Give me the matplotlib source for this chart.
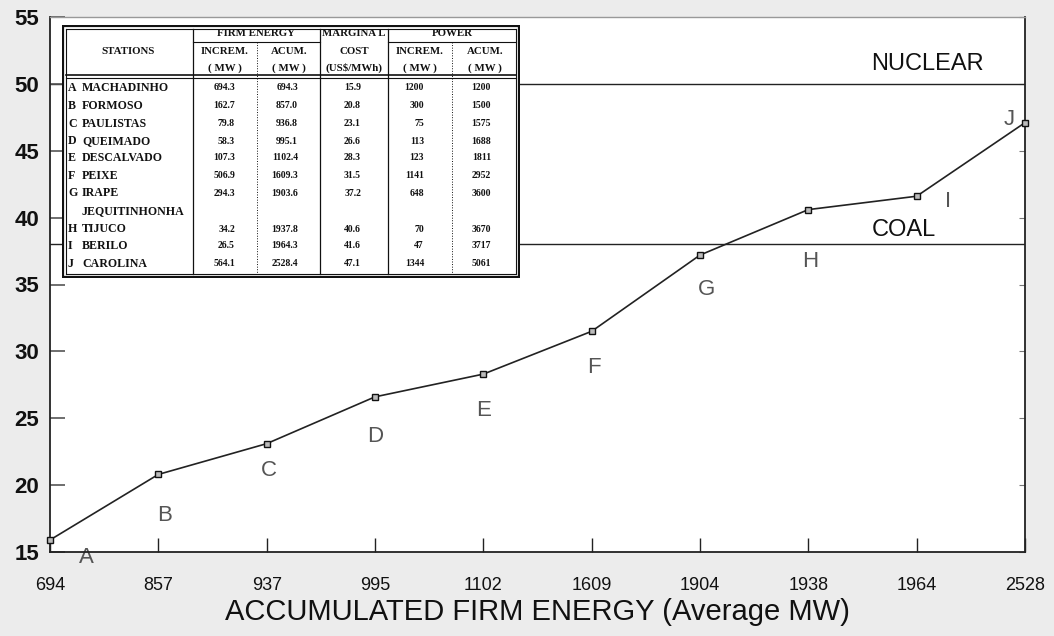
import matplotlib
matplotlib.use("Agg")
import matplotlib.pyplot as plt
from matplotlib.lines import Line2D

# ---------------- data ----------------
letters = ["A", "B", "C", "D", "E", "F", "G", "H", "I", "J"]
stations = ["MACHADINHO", "FORMOSO", "PAULISTAS", "QUEIMADO", "DESCALVADO",
            "PEIXE", "IRAPE", "TIJUCO", "BERILO", "CAROLINA"]
firm_increm = ["694.3", "162.7", "79.8", "58.3", "107.3", "506.9", "294.3", "34.2", "26.5", "564.1"]
firm_acum = ["694.3", "857.0", "936.8", "995.1", "1102.4", "1609.3", "1903.6", "1937.8", "1964.3", "2528.4"]
marginal_cost = [15.9, 20.8, 23.1, 26.6, 28.3, 31.5, 37.2, 40.6, 41.6, 47.1]
power_increm = ["1200", "300", "75", "113", "123", "1141", "648", "70", "47", "1344"]
power_acum = ["1200", "1500", "1575", "1688", "1811", "2952", "3600", "3670", "3717", "5061"]
x_ticklabels = ["694", "857", "937", "995", "1102", "1609", "1904", "1938", "1964", "2528"]
y_ticks = [15, 20, 25, 30, 35, 40, 45, 50, 55]
nuclear_cost = 50
coal_cost = 38

# label offsets (in axis units) for the point letters
label_dx = [0.34, 0.06, 0.02, 0.0, 0.0, 0.02, 0.06, 0.02, 0.29, -0.15]
label_dy = [-1.3, -3.1, -2.0, -3.0, -2.7, -2.7, -2.6, -3.9, -0.4, 0.2]

SANS = ["Liberation Sans", "DejaVu Sans"]
NARROW = ["Liberation Sans Narrow", "Liberation Sans", "DejaVu Sans"]
SERIF = ["Liberation Serif", "DejaVu Serif"]

fig = plt.figure(figsize=(10.54, 6.36), dpi=100, facecolor="#ececec")
ax = fig.add_axes([50 / 1054, 1 - 552 / 636, 975 / 1054, 535 / 636])
ax.set_facecolor("white")

xs = list(range(len(letters)))
ax.plot(xs, marginal_cost, color="#222222", lw=1.2, marker="s", ms=4,
        mfc="#bbbbbb", mec="#111111", mew=1.0, zorder=3, clip_on=False)

ax.axhline(nuclear_cost, color="#222222", lw=1.0, zorder=1)
ax.axhline(coal_cost, color="#222222", lw=1.0, zorder=1)
ax.text(8.1, 51.5, "NUCLEAR", fontsize=17, family=SANS, color="#111111",
        ha="center", va="center")
ax.text(7.88, 39.1, "COAL", fontsize=17, family=SANS, color="#111111",
        ha="center", va="center")

for i, lab in enumerate(letters):
    ax.text(xs[i] + label_dx[i], marginal_cost[i] + label_dy[i], lab,
            fontsize=16, family=SANS, color="#555555", ha="center",
            va="center", zorder=2, clip_on=False)

ax.set_xlim(0, len(letters) - 1)
ax.set_ylim(15, 55)
ax.set_xticks(xs)
ax.set_xticklabels(x_ticklabels, family=NARROW, fontsize=13)
ax.set_yticks(y_ticks)
ax.set_yticklabels([str(v) for v in y_ticks], family=SANS, fontsize=16, weight="bold")
ax.tick_params(axis="x", direction="in", length=10, width=1, pad=18, colors="#222222")
ax.tick_params(axis="y", direction="in", length=11, width=1.2, pad=8, colors="#555555")
ax.tick_params(axis="y", labelcolor="#111111")
ax.tick_params(axis="x", labelcolor="#111111")
for s in ["left", "bottom", "right"]:
    ax.spines[s].set_color("#222222")
    ax.spines[s].set_linewidth(1.3)
ax.spines["top"].set_color("#999999")
ax.spines["top"].set_linewidth(1.0)

# small inward ticks on the right spine
rax = ax.secondary_yaxis("right")
rax.set_yticks(y_ticks)
rax.set_yticklabels([])
rax.tick_params(direction="in", length=4, width=0.8, colors="#777777")
rax.spines["right"].set_visible(False)

ax.set_xlabel("ACCUMULATED FIRM ENERGY (Average MW)", family=SANS, fontsize=21,
              color="#111111", labelpad=3)

# ---------------- table inset ----------------
L, R, T, B = 62, 520, 25, 278
tax = fig.add_axes([L / 1054, 1 - B / 636, (R - L) / 1054, (B - T) / 636])
tax.set_xlim(L, R)
tax.set_ylim(B, T)
tax.axis("off")
tax.add_patch(plt.Rectangle((L, T), R - L, B - T, facecolor="white", edgecolor="none", zorder=0))


def hl(y, x0, x1, lw=1.0, ls="-"):
    tax.add_line(Line2D([x0, x1], [y, y], color="#111111", lw=lw, ls=ls))


def vl(x, y0, y1, lw=1.0, ls="-"):
    tax.add_line(Line2D([x, x], [y0, y1], color="#111111", lw=lw, ls=ls))


# outer double border
hl(T + 1, L + 1, R - 1, 1.6); hl(B - 1, L + 1, R - 1, 1.6)
vl(L + 1, T + 1, B - 1, 1.6); vl(R - 1, T + 1, B - 1, 1.6)
hl(T + 4, L + 4, R - 4, 0.8); hl(B - 4, L + 4, R - 4, 0.8)
vl(L + 4, T + 4, B - 4, 0.8); vl(R - 4, T + 4, B - 4, 0.8)
# header separators
hl(75, L + 4, R - 4, 1.2); hl(78, L + 4, R - 4, 0.8)
hl(42, 193, 320, 0.8); hl(42, 388, R - 4, 0.8)
vl(193, T + 4, B - 4, 0.9); vl(320, T + 4, B - 4, 0.9); vl(388, T + 4, B - 4, 0.9)
vl(257, 42, B - 4, 0.7, ":"); vl(452, 42, B - 4, 0.7, ":")

hkw = dict(family=SERIF, fontsize=7.8, weight="bold", ha="center", va="center", color="#111111")
tax.text(256, 34, "FIRM ENERGY", **hkw)
tax.text(354, 34, "MARGINA L", **hkw)
tax.text(452, 34, "POWER", **hkw)
tax.text(128, 51, "STATIONS", **hkw)
tax.text(225, 51, "INCREM.", **hkw)
tax.text(289, 51, "ACUM.", **hkw)
tax.text(354, 51, "COST", **hkw)
tax.text(420, 51, "INCREM.", **hkw)
tax.text(485, 51, "ACUM.", **hkw)
tax.text(225, 68, "( MW )", **hkw)
tax.text(289, 68, "( MW )", **hkw)
tax.text(354, 68, "(US$/MWh)", **hkw)
tax.text(420, 68, "( MW )", **hkw)
tax.text(485, 68, "( MW )", **hkw)

row_y = [88, 106, 124, 141, 158, 176, 193, 229, 246, 264]
nkw = dict(family=SERIF, fontsize=8.6, weight="bold", va="center", color="#111111")
rkw = dict(family=SERIF, fontsize=7.0, weight="bold", va="center", color="#111111")
for i in range(len(letters)):
    y = row_y[i]
    tax.text(68, y, letters[i], ha="left", **nkw)
    tax.text(82, y, stations[i], ha="left", **nkw)
    tax.text(235, y, firm_increm[i], ha="right", **rkw)
    tax.text(298, y, firm_acum[i], ha="right", **rkw)
    tax.text(361, y, f"{marginal_cost[i]:.1f}", ha="right", **rkw)
    tax.text(424, y, power_increm[i], ha="right", **rkw)
    tax.text(491, y, power_acum[i], ha="right", **rkw)
tax.text(82, 211, "JEQUITINHONHA", ha="left", **nkw)

fig.savefig("out.png", dpi=100, facecolor=fig.get_facecolor())
